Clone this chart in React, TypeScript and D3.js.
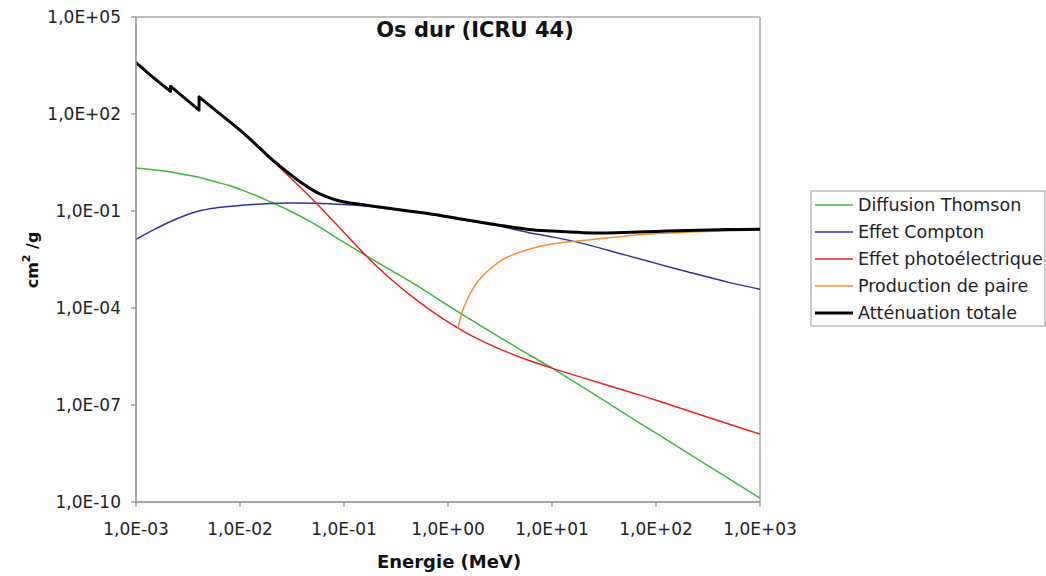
import React from "react";
import * as d3 from "d3";

type Pt = [number, number];

// Energy in MeV, mass coefficients in cm²/g
const energyTicks = [1e-3, 1e-2, 1e-1, 1, 10, 100, 1000];
const valueTicks = [1e5, 1e2, 1e-1, 1e-4, 1e-7, 1e-10];

const thomson: Pt[] = [
  [1e-3, 2.14], [2e-3, 1.66], [3e-3, 1.32], [4e-3, 1.1], [6e-3, 0.776],
  [8e-3, 0.603], [1e-2, 0.468], [1.5e-2, 0.282], [2e-2, 0.186], [3e-2, 0.102],
  [5e-2, 0.0427], [0.1, 0.0107], [0.2, 2.82e-3], [0.5, 5.0e-4], [1, 1.2e-4],
  [2, 3.0e-5], [5, 5.1e-6], [10, 1.38e-6], [100, 1.35e-8], [1000, 1.32e-10],
];

const compton: Pt[] = [
  [1e-3, 0.0132], [1.5e-3, 0.0269], [2e-3, 0.0427], [3e-3, 0.0741], [4e-3, 0.1],
  [6e-3, 0.126], [1e-2, 0.148], [2e-2, 0.172], [3e-2, 0.178], [5e-2, 0.174],
  [0.1, 0.158], [0.2, 0.132], [0.4, 0.102], [1, 0.0646], [2, 0.0437],
  [3, 0.0347], [6, 0.0214], [10, 0.0158], [20, 9.8e-3], [50, 4.4e-3],
  [100, 2.4e-3], [200, 1.32e-3], [500, 6.2e-4], [1000, 3.8e-4],
];

const photo: Pt[] = [
  [1e-3, 3800], [1.5e-3, 1230], [2.1455e-3, 490], [2.1455e-3, 708], [3e-3, 288],
  [4.0381e-3, 129], [4.0381e-3, 331], [6e-3, 117], [1e-2, 30.9], [1.5e-2, 9.3],
  [2e-2, 3.89], [3e-2, 1.13], [4e-2, 0.462], [5e-2, 0.226], [6e-2, 0.124],
  [8e-2, 0.0467], [0.1, 0.0216], [0.15, 5.45e-3], [0.2, 2.14e-3], [0.3, 6.6e-4],
  [0.5, 1.75e-4], [0.8, 5.94e-5], [1, 3.72e-5], [1.25, 2.4e-5], [1.5, 1.71e-5],
  [2, 1.05e-5], [3, 5.75e-6], [5, 2.95e-6], [10, 1.38e-6], [20, 6.9e-7],
  [50, 2.82e-7], [100, 1.41e-7], [200, 6.8e-8], [500, 2.57e-8], [1000, 1.26e-8],
];

const pair: Pt[] = [
  [1.25, 2.4e-5], [1.35, 6.6e-5], [1.5, 1.58e-4], [1.65, 2.95e-4], [2, 7.6e-4],
  [3, 2.5e-3], [4, 4.17e-3], [6, 6.6e-3], [8, 8.3e-3], [10, 9.55e-3],
  [20, 0.0123], [50, 0.0166], [100, 0.02], [300, 0.0234], [1000, 0.026],
];

const total: Pt[] = [
  [1e-3, 3890], [1.5e-3, 1260], [2.1455e-3, 501], [2.1455e-3, 724], [3e-3, 295],
  [4.0381e-3, 132], [4.0381e-3, 339], [6e-3, 120], [1e-2, 31.6], [1.5e-2, 9.77],
  [2e-2, 4.1], [3e-2, 1.41], [4e-2, 0.704], [5e-2, 0.443], [6e-2, 0.325],
  [8e-2, 0.228], [0.1, 0.19], [0.15, 0.158], [0.2, 0.138], [0.4, 0.102],
  [0.6, 0.087], [1, 0.066], [2, 0.0457], [3, 0.0372], [6, 0.0269],
  [10, 0.024], [20, 0.0214], [30, 0.0209], [50, 0.0216], [100, 0.0234],
  [200, 0.0251], [500, 0.0266], [1000, 0.0275],
];

const seriesNames = [
  "Diffusion Thomson",
  "Effet Compton",
  "Effet photoélectrique",
  "Production de paire",
  "Atténuation totale",
];
const seriesData = [thomson, compton, photo, pair, total];
const seriesColors = ["#3cb43c", "#333399", "#e02424", "#f39030", "#000000"];
const seriesWidths = [1.5, 1.5, 1.5, 1.5, 3];

const W = 1046;
const H = 576;
const plot = { left: 136, right: 760, top: 17, bottom: 502 };
const font = "'DejaVu Sans', Verdana, sans-serif";

const x = d3.scaleLog().domain([1e-3, 1e3]).range([plot.left, plot.right]);
const y = d3.scaleLog().domain([1e-10, 1e5]).range([plot.bottom, plot.top]);

function sciLabel(v: number): string {
  const e = Math.round(Math.log10(v));
  const sign = e < 0 ? "-" : "+";
  return `1,0E${sign}${String(Math.abs(e)).padStart(2, "0")}`;
}

// Split at absorption edges (repeated energy) and join the pieces with a vertical step
function curvePath(data: Pt[]): string {
  const segs: Pt[][] = [];
  let cur: Pt[] = [];
  data.forEach((p, i) => {
    if (i > 0 && p[0] === data[i - 1][0]) {
      segs.push(cur);
      cur = [];
    }
    cur.push(p);
  });
  segs.push(cur);
  const line = d3
    .line<Pt>()
    .x((d) => x(d[0]))
    .y((d) => y(d[1]))
    .curve(d3.curveCatmullRom.alpha(0.5));
  return segs
    .map((s, i) => {
      const p = line(s) || "";
      return i === 0 ? p : "L" + p.slice(1);
    })
    .join("");
}

export default function App() {
  return (
    <svg
      width={W}
      height={H}
      viewBox={`0 0 ${W} ${H}`}
      style={{ position: "absolute", left: 0, top: 0, background: "#fff" }}
      fontFamily={font}
    >
      <rect x={0} y={0} width={W} height={H} fill="#fff" />
      <defs>
        <clipPath id="plotArea">
          <rect x={plot.left} y={plot.top} width={plot.right - plot.left} height={plot.bottom - plot.top} />
        </clipPath>
      </defs>

      {/* frame */}
      <line x1={plot.left} y1={plot.top} x2={plot.right} y2={plot.top} stroke="#a8a8a8" strokeWidth={1.5} />
      <line x1={plot.right} y1={plot.top} x2={plot.right} y2={plot.bottom} stroke="#a8a8a8" strokeWidth={1.5} />

      {/* series */}
      <g clipPath="url(#plotArea)">
        {seriesData.map((d, i) => (
          <path
            key={seriesNames[i]}
            d={curvePath(d)}
            fill="none"
            stroke={seriesColors[i]}
            strokeWidth={seriesWidths[i]}
            strokeLinejoin="round"
            strokeLinecap="round"
          />
        ))}
      </g>

      {/* axes */}
      <line x1={plot.left} y1={plot.top} x2={plot.left} y2={plot.bottom} stroke="#888" strokeWidth={1.5} />
      <line x1={plot.left} y1={plot.bottom} x2={plot.right} y2={plot.bottom} stroke="#888" strokeWidth={1.5} />
      {valueTicks.map((v) => (
        <g key={"y" + v}>
          <line x1={plot.left - 5} x2={plot.left} y1={y(v)} y2={y(v)} stroke="#888" strokeWidth={1.2} />
          <text x={121} y={y(v) + 6} textAnchor="end" fontSize={17} fill="#222">
            {sciLabel(v)}
          </text>
        </g>
      ))}
      {energyTicks.map((v) => (
        <g key={"x" + v}>
          <line x1={x(v)} x2={x(v)} y1={plot.bottom} y2={plot.bottom + 5} stroke="#888" strokeWidth={1.2} />
          <text x={x(v)} y={535} textAnchor="middle" fontSize={17} fill="#222">
            {sciLabel(v)}
          </text>
        </g>
      ))}

      {/* titles */}
      <text x={475} y={37} textAnchor="middle" fontSize={21} fontWeight="bold" fill="#111">
        Os dur (ICRU 44)
      </text>
      <text x={449} y={568} textAnchor="middle" fontSize={18} fontWeight="bold" fill="#111">
        Energie (MeV)
      </text>
      <text transform="translate(38,260) rotate(-90)" textAnchor="middle" fontSize={16} fontWeight="bold" fill="#111">
        cm
        <tspan dy={-8} fontSize={11}>2</tspan>
        <tspan dy={8}> /g</tspan>
      </text>

      {/* legend */}
      <rect x={811} y={191} width={234} height={135} fill="#fff" stroke="#a8a8a8" strokeWidth={1.2} />
      {seriesNames.map((name, i) => {
        const cy = 205 + i * 27;
        return (
          <g key={"lg" + name}>
            <line x1={815} x2={853} y1={cy} y2={cy} stroke={seriesColors[i]} strokeWidth={seriesWidths[i]} />
            <text x={858} y={cy + 6} fontSize={17.5} fill="#222">
              {name}
            </text>
          </g>
        );
      })}
    </svg>
  );
}
